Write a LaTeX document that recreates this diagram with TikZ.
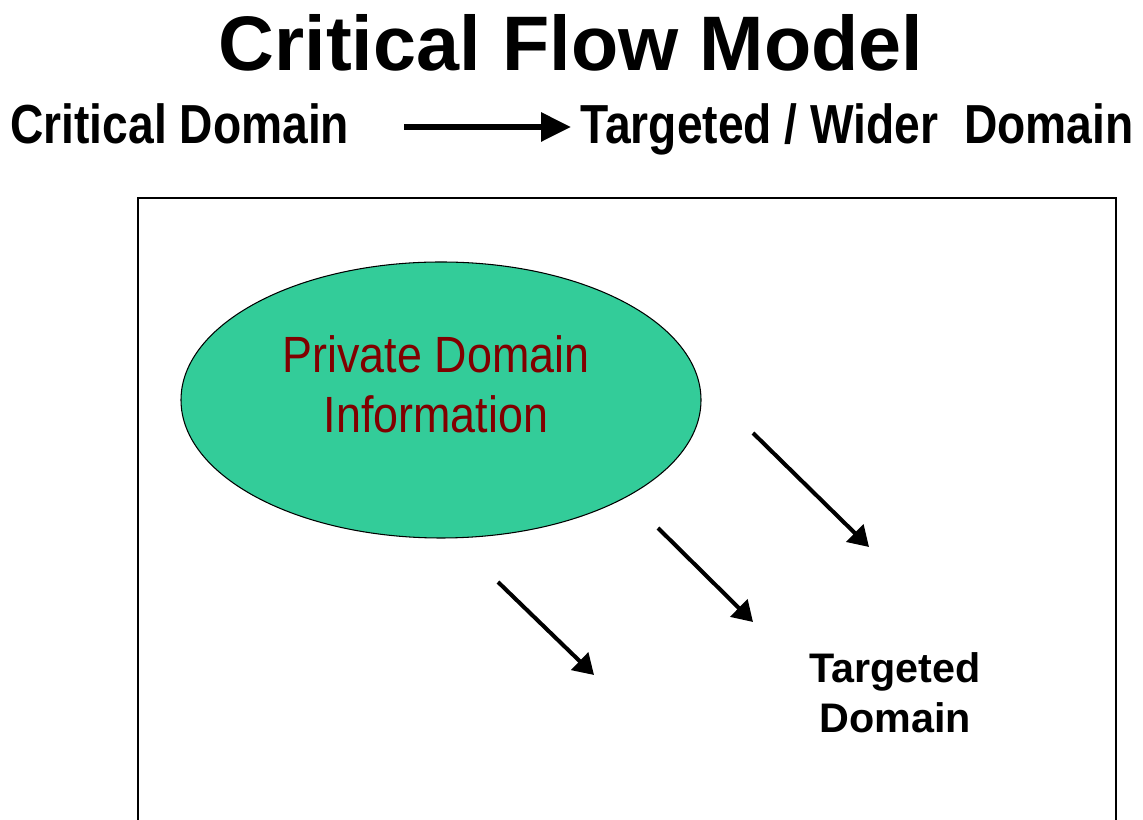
\documentclass[tikz,border=0pt]{standalone}
\usepackage{fontspec}
\setmainfont{Liberation Sans}
\newfontfamily\narrowfont[FakeStretch=0.84]{Liberation Sans}
\newfontfamily\infofont[FakeStretch=0.88]{Liberation Sans}
\usetikzlibrary{arrows.meta,shapes.geometric}
\definecolor{domaingreen}{HTML}{33CC99}
\definecolor{infored}{HTML}{800000}
\tikzset{
	flow/.style={line width=2.3pt, -{Triangle[length=0.4cm,width=0.48cm]}},
	heading/.style={anchor=base west, inner sep=0pt, font=\narrowfont\bfseries\fontsize{31.3}{37}\selectfont}
}
\begin{document}
\begin{tikzpicture}
	\clip (0,0) rectangle (22.86,16.4);
	
	% heading lines
	\node (title) at (11.42,14.98) [anchor=base, inner sep=0pt, font=\bfseries\fontsize{44}{52}\selectfont] {Critical Flow Model};
	\node (critical) at (0.2,13.52) [heading] {Critical Domain};
	\node (wider) at (11.6,13.52) [heading] {Targeted / Wider\ \ Domain};
	\coordinate (hstart) at (8.08,13.86);
	\coordinate (hend) at (11.42,13.86);
	\draw[line width=3.4pt, -{Triangle[length=0.6cm,width=0.56cm]}] (hstart) -- (hend);
	
	% frame, open at the bottom
	\draw[line width=0.8pt] (2.76,-0.2) -- (2.76,12.44) -- (22.32,12.44) -- (22.32,-0.2);
	
	\node (private) at (8.82,8.4) [ellipse, draw, fill=domaingreen, line width=0.6pt, minimum width=10.4cm, minimum height=5.52cm] {};
	\node (privtext) at (8.72,8.72) [align=center, text=infored, font=\infofont\fontsize{29}{34.1}\selectfont] {Private Domain\\Information};
	
	\node (target) at (17.9,2.55) [align=center, font=\bfseries\fontsize{23.5}{28.5}\selectfont] {Targeted\\Domain};
	
	% flow arrows
	\coordinate (a1s) at (15.06,7.74);
	\coordinate (a1e) at (17.38,5.46);
	\coordinate (a2s) at (13.16,5.84);
	\coordinate (a2e) at (15.06,3.96);
	\coordinate (a3s) at (9.96,4.76);
	\coordinate (a3e) at (11.88,2.9);
	\draw[flow] (a1s) -- (a1e);
	\draw[flow] (a2s) -- (a2e);
	\draw[flow] (a3s) -- (a3e);
\end{tikzpicture}
\end{document}
